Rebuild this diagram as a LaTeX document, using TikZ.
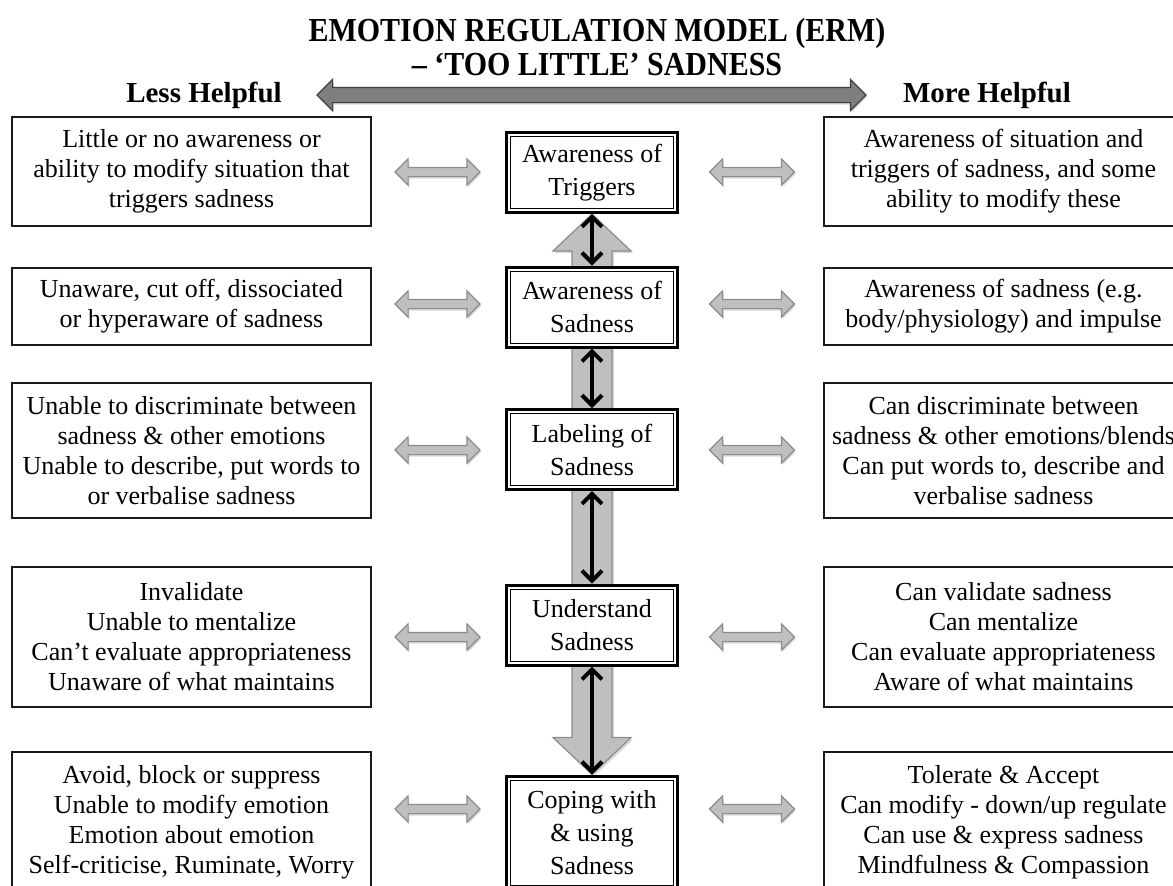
\documentclass[tikz,border=0pt]{standalone}
\usepackage{graphicx}
\usepackage{fontspec}
\setmainfont{Liberation Serif}
\usetikzlibrary{calc,shapes.arrows,shadows,arrows.meta,backgrounds}
\definecolor{boxline}{HTML}{1A1A1A}
\definecolor{arrfill}{HTML}{BFBFBF}
\definecolor{arredge}{HTML}{8C8C8C}
\definecolor{darkfill}{HTML}{7F7F7F}
\definecolor{darkedge}{HTML}{3F3F3F}
\newcommand{\tall}[1]{\scalebox{1}[1.12]{#1}}
\tikzset{
  txt/.style={font=\fontsize{13}{15}\selectfont, align=center, inner sep=0pt},
  head/.style={font=\bfseries\fontsize{14.5}{16}\selectfont, anchor=base},
  side/.style={txt, draw=boxline, line width=0.8pt, minimum width=179.5pt},
  stage/.style={txt, font=\fontsize{13}{16.5}\selectfont, draw=black, line width=1.5pt,
    fill=white, minimum width=85.5pt, minimum height=40pt,
    path picture={\draw[line width=0.5pt]
      ([shift={(2pt,-2pt)}]path picture bounding box.north west) rectangle
      ([shift={(-2pt,2pt)}]path picture bounding box.south east);}},
  sidearr/.style={double arrow, double arrow head extend=4.25pt, inner xsep=0pt,
    inner ysep=2pt, minimum height=42.5pt, fill=arrfill, draw=arredge, line width=0.6pt,
    drop shadow={opacity=0.3, shadow xshift=0.6pt, shadow yshift=-1pt}},
  scalearr/.style={double arrow, double arrow head extend=4pt, inner xsep=0pt,
    inner ysep=3.5pt, minimum height=274.5pt, fill=darkfill, draw=darkedge, line width=0.6pt,
    drop shadow={opacity=0.3, shadow xshift=0.6pt, shadow yshift=-1pt}},
  bigarr/.style={fill=arrfill, draw=arredge, line width=0.6pt,
    drop shadow={opacity=0.3, shadow xshift=1pt, shadow yshift=-1pt}},
  link/.style={{Straight Barb[length=5pt,width=10pt]}-{Straight Barb[length=5pt,width=10pt]},
    line width=2pt}
}
\begin{document}
\begin{tikzpicture}[x=0.5pt, y=-0.5pt]
\useasboundingbox (0,0) rectangle (1173,885);

% heading
\node[head, font=\bfseries\fontsize{15}{16}\selectfont] (title1) at (597,41) {\tall{EMOTION REGULATION MODEL (ERM)}};
\node[head, font=\bfseries\fontsize{15}{16}\selectfont] (title2) at (597,75) {\tall{– ‘TOO LITTLE’ SADNESS}};
\node[head] (less) at (204,102) {Less Helpful};
\node[head] (more) at (987,102) {More Helpful};
\node[scalearr] (scale) at (591.5,95) {};

% middle column
\node[stage] (trig) at (592,172.5) {Awareness of\\Triggers};
\node[stage] (aware) at (592,307) {Awareness of\\Sadness};
\node[stage] (label) at (592,449.5) {Labeling of\\Sadness};
\node[stage] (under) at (592,625) {Understand\\Sadness};
\node[stage, minimum height=56.5pt] (cope) at (592,832.5) {Coping with\\\& using\\Sadness};

\begin{scope}[on background layer]
\draw[bigarr] (trig.south) -- ++(19.5pt,-18.5pt) -- ++(-9.5pt,0)
  -- ($(cope.north)+(10pt,18.5pt)$) -- ++(9.5pt,0) -- (cope.north)
  -- ++(-19.5pt,18.5pt) -- ++(9.5pt,0)
  -- ($(trig.south)+(-10pt,-18.5pt)$) -- ++(-9.5pt,0) -- cycle;
\end{scope}

\draw[link] (trig) -- (aware);
\draw[link] (aware) -- (label);
\draw[link] (label) -- (under);
\draw[link] (under) -- (cope);

% less helpful
\node[side, minimum height=54.5pt] (l1) at (191.5,171.5) {Little or no awareness or\\ability to modify situation that\\triggers sadness};
\node[side, minimum height=38.5pt] (l2) at (191.5,306.5) {Unaware, cut off, dissociated\\or hyperaware of sadness};
\node[side, minimum height=67.5pt] (l3) at (191.5,450.5) {Unable to discriminate between\\sadness \& other emotions\\Unable to describe, put words to\\or verbalise sadness};
\node[side, minimum height=70pt] (l4) at (191.5,637) {Invalidate\\Unable to mentalize\\Can’t evaluate appropriateness\\Unaware of what maintains};
\node[side, minimum height=70.5pt] (l5) at (191.5,822.5) {Avoid, block or suppress\\Unable to modify emotion\\Emotion about emotion\\Self-criticise, Ruminate, Worry};

% more helpful
\node[side, minimum height=54.5pt] (r1) at (1003.5,171.5) {Awareness of situation and\\triggers of sadness, and some\\ability to modify these};
\node[side, minimum height=38.5pt] (r2) at (1003.5,306.5) {Awareness of sadness (e.g.\\body/physiology) and impulse};
\node[side, minimum height=67.5pt] (r3) at (1003.5,450.5) {Can discriminate between\\sadness \& other emotions/blends\\Can put words to, describe and\\verbalise sadness};
\node[side, minimum height=70pt] (r4) at (1003.5,637) {Can validate sadness\\Can mentalize\\Can evaluate appropriateness\\Aware of what maintains};
\node[side, minimum height=70.5pt] (r5) at (1003.5,822.5) {Tolerate \& Accept\\Can modify - down/up regulate\\Can use \& express sadness\\Mindfulness \& Compassion};

% side arrows
\foreach \n/\y in {1/172,2/304,3/450,4/637,5/809}{
  \node[sidearr] (la\n) at (437.5,\y) {};
  \node[sidearr] (ra\n) at (752,\y) {};
}
\end{tikzpicture}
\end{document}
